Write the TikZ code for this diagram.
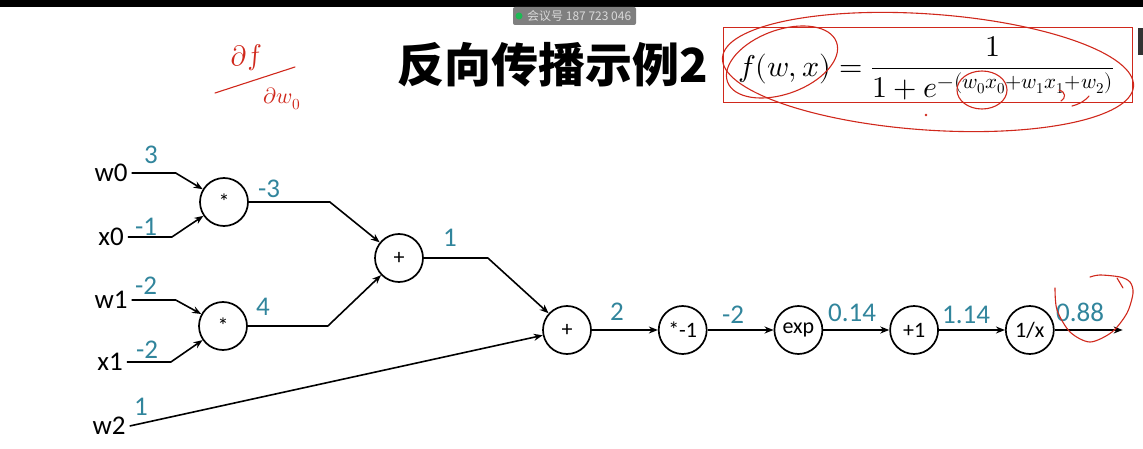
\documentclass[tikz,border=0pt]{standalone}
\usepackage{fontspec}
\usepackage{unicode-math}
\setmainfont{Carlito}
\newfontfamily\cjk{Noto Sans CJK SC}
\usetikzlibrary{arrows.meta,positioning}
\definecolor{valblue}{HTML}{31859C}
\definecolor{pen}{HTML}{D0281C}
\definecolor{badgegray}{HTML}{7F7F7F}
\definecolor{dotgreen}{HTML}{1DB954}
\tikzset{
  op/.style={draw, circle, line width=1.7pt, minimum size=48pt, inner sep=0pt,
             font=\fontsize{22}{26}\selectfont},
  inp/.style={inner xsep=4pt, inner ysep=0pt, font=\fontsize{27}{32}\selectfont},
  val/.style={inner sep=0pt, text=valblue, font=\fontsize{27}{32}\selectfont},
  flow/.style={-{Stealth[length=9pt,width=7pt]}, line width=1.6pt},
  ink/.style={draw=pen, line width=1.1pt, line cap=round},
  badge/.style={fill=badgegray, rounded corners=2pt, minimum width=123pt,
                minimum height=18pt, inner sep=0pt}
}

\begin{document}
\begin{tikzpicture}[x=1pt,y=-1pt]
  \useasboundingbox (0,0) rectangle (1143,449);
  % screen frame
  \fill[black] (0,0) rectangle (1143,7);
  \fill[black!80] (1138,28) rectangle (1143,55);
  \node[badge] (meet) at (574.5,16) {};
  \fill[dotgreen] (519,16) circle (3.5);
  \node[text=black!15, font=\cjk\fontsize{12}{14}\selectfont, anchor=west, inner sep=0pt]
    (meetno) at (527,16) {会议号 187 723 046};

  % title and formula
  \node[font=\cjk\bfseries\fontsize{47}{56}\selectfont] (title) at (553,65) {反向传播示例2};
  \draw[pen, line width=1pt] (723,28) rectangle (1132,103);
  \node[anchor=west, inner sep=0pt, font=\fontsize{30}{36}\selectfont] (fwx) at (738,68)
    {$\displaystyle f(w,x)=\frac{1}{1+e^{-(w_0x_0+w_1x_1+w_2)}}$};

  % graph
  \node[op] (mul0) at (224,202) {*};
  \node[op] (add0) at (399,258) {+};
  \node[op] (mul1) at (223,326) {*};
  \node[op] (add1) at (567,330) {+};
  \node[op, right=66pt of add1] (neg) {*-1};
  \node[op, right=66pt of neg] (ex) {exp};
  \node[op, right=66pt of ex] (inc) {+1};
  \node[op, right=66pt of inc] (inv) {1/x};
  \coordinate[right=68pt of inv] (out);

  \node[inp] (w0) at (111,173) {w0};
  \node[inp] (x0) at (111,237) {x0};
  \node[inp] (w1) at (111,300) {w1};
  \node[inp] (x1) at (110,362) {x1};
  \node[inp] (w2) at (109,426) {w2};

  \draw[flow] (w0.east) -- ++(44,0) -- (mul0);
  \draw[flow] (x0.east) -- ++(44,0) -- (mul0);
  \draw[flow] (w1.east) -- ++(44,0) -- (mul1);
  \draw[flow] (x1.east) -- ++(44,0) -- (mul1);
  \draw[flow] (w2.east) -- (add1);
  \draw[flow] (mul0.east) -- ++(81,0) -- (add0);
  \draw[flow] (mul1.east) -- ++(80,0) -- (add0);
  \draw[flow] (add0.east) -- ++(64,0) -- (add1);
  \draw[flow] (add1) -- (neg);
  \draw[flow] (neg) -- (ex);
  \draw[flow] (ex) -- (inc);
  \draw[flow] (inc) -- (inv);
  \draw[flow] (inv) -- (out);

  % forward values
  \node[val] (vw0) at (151,155) {3};
  \node[val] (vx0) at (146,227) {-1};
  \node[val] (vw1) at (146,286) {-2};
  \node[val] (vx1) at (147,350) {-2};
  \node[val] (vw2) at (141,407) {1};
  \node[val] (vmul0) at (269,189) {-3};
  \node[val] (vmul1) at (263,307) {4};
  \node[val] (vadd0) at (450,238) {1};
  \node[val] (vadd1) at (617,312) {2};
  \node[val] (vneg) at (733,315) {-2};
  \node[val] (vex) at (852,313) {0.14};
  \node[val] (vinc) at (966,315) {1.14};
  \node[val] (vinv) at (1080,312) {0.88};

  % red pen marks
  \node[text=pen, font=\fontsize{28}{28}\selectfont, rotate=6] (dfn) at (247,58) {$\partial f$};
  \draw[ink] (215,93) -- (295,67);
  \node[text=pen, font=\fontsize{22}{22}\selectfont] (dwn) at (282,99) {$\partial w_0$};
  \draw[ink, rotate around={20:(782,62)}] (782,62) ellipse[x radius=58, y radius=32];
  \draw[ink, rotate around={-4:(928,72)}] (928,72) ellipse[x radius=206, y radius=58];
  \draw[ink] (982,90) ellipse[x radius=25, y radius=19];
  \draw[ink] (1059,90) .. controls (1066,92) and (1066,98) .. (1061,101);
  \draw[ink] (1072,106) .. controls (1080,104) and (1086,100) .. (1089,96);
  \fill[pen] (926,115) circle (1.3);
  \draw[ink] plot[smooth] coordinates {(1055,288) (1057,310) (1070,332) (1090,342)
    (1112,332) (1127,313) (1133,293) (1130,282) (1120,277) (1100,275) (1090,277)};
  \draw[ink] (1117,278) -- (1123,288);
\end{tikzpicture}
\end{document}
